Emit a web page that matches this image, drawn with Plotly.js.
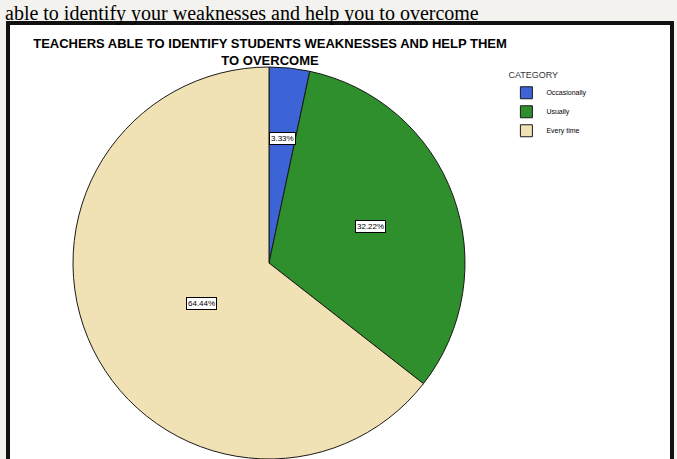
<!DOCTYPE html>
<html><head><meta charset="utf-8">
<script src="https://cdn.plot.ly/plotly-3.0.1.min.js"></script>
<style>html,body{margin:0;padding:0;background:#f3f2ee;}#chart{width:677px;height:459px;}</style>
</head><body><div id="chart"></div>
<script>
const categories = ["Occasionally", "Usually", "Every time"];
const counts = [3, 29, 58];
const sliceColors = ["#3c64d6", "#2f8f2c", "#f0e2b4"];
const titleText = "TEACHERS ABLE TO IDENTIFY STUDENTS WEAKNESSES AND HELP THEM<br>TO OVERCOME";
const headerText = "able to identify your weaknesses and help you to overcome";

const W = 677, H = 459;
const dom = {x: [72 / W, 466 / W], y: [0.0, 392 / H]};
const total = counts.reduce((a, b) => a + b, 0);
const pct = counts.map(v => (v / total * 100).toFixed(2) + "%");

// label annotations derived from data (slice mid-angles, clockwise from 12 o'clock)
const cx = (dom.x[0] + dom.x[1]) / 2, cy = (dom.y[0] + dom.y[1]) / 2;
const rpx = Math.min((dom.x[1] - dom.x[0]) * W, (dom.y[1] - dom.y[0]) * H) / 2;
const rFrac = [0.67, 0.55, 0.47];
let cum = 0;
const labelAnn = counts.map((v, i) => {
  const mid = (cum + v / 2) / total; cum += v;
  const a = mid * 2 * Math.PI;
  const r = rpx * rFrac[i];
  return {
    xref: "paper", yref: "paper",
    x: cx + r * Math.sin(a) / W, y: cy + r * Math.cos(a) / H,
    text: pct[i], showarrow: false,
    font: {family: "Liberation Sans, Arial", size: 8, color: "#000"},
    bgcolor: "#ffffff", bordercolor: "#000", borderwidth: 1, borderpad: 1
  };
});

const data = [{
  type: "pie",
  labels: categories,
  values: counts,
  sort: false,
  direction: "clockwise",
  rotation: 0,
  textinfo: "none",
  hoverinfo: "label+percent",
  marker: {colors: sliceColors, line: {color: "#1a1a1a", width: 1}},
  domain: dom
}];

const layout = {
  width: W, height: H,
  margin: {l: 0, r: 0, t: 0, b: 0},
  paper_bgcolor: "#f3f2ee",
  showlegend: true,
  legend: {
    x: 0.748, y: 0.855, xanchor: "left", yanchor: "top",
    bgcolor: "rgba(0,0,0,0)",
    title: {text: "CATEGORY", font: {family: "Liberation Sans, Arial", size: 9, color: "#333"}},
    font: {family: "Liberation Sans, Arial", size: 7, color: "#000"},
    itemwidth: 30, tracegroupgap: 0
  },
  title: {
    text: "<b>" + titleText + "</b>",
    font: {family: "Liberation Sans, Arial", size: 13, color: "#000"},
    x: 270 / W, xanchor: "center", y: 1 - 48 / H, yanchor: "top"
  },
  shapes: [
    {type: "rect", xref: "paper", yref: "paper", x0: 8 / W, x1: 672 / W, y0: -0.01, y1: 1 - 23 / H,
     fillcolor: "#ffffff", line: {color: "#111", width: 4}, layer: "below"}
  ],
  annotations: [
    {xref: "paper", yref: "paper", x: 3 / W, y: 1, xanchor: "left", yanchor: "top",
     text: headerText, showarrow: false,
     font: {family: "Liberation Serif, Times New Roman", size: 20, color: "#000"}}
  ].concat(labelAnn)
};

Plotly.newPlot("chart", data, layout, {displayModeBar: false, staticPlot: true});
</script></body></html>
